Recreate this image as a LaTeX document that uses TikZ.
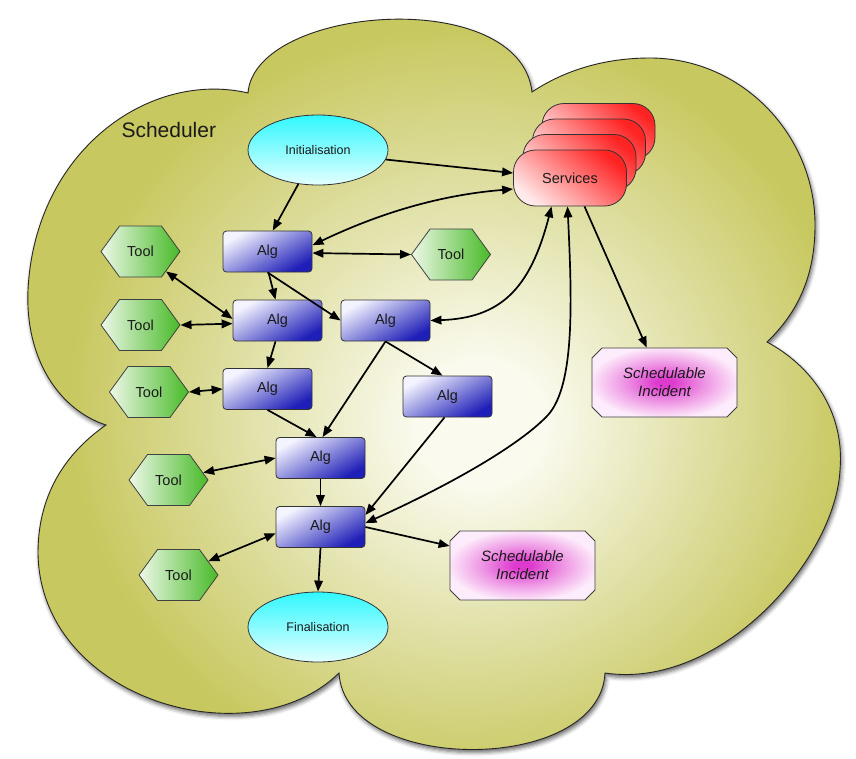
\documentclass[tikz,border=0pt]{standalone}
\usepackage{fontspec}
\setmainfont{Liberation Sans}
\usetikzlibrary{shapes.geometric,shapes.misc,shapes.symbols,arrows.meta,shadows.blur}

\definecolor{cloudout}{RGB}{200,200,96}
\definecolor{cloudmid}{RGB}{224,224,166}
\definecolor{cloudin}{RGB}{250,250,238}
\definecolor{txt}{RGB}{26,26,26}
\definecolor{algT}{RGB}{244,244,255}
\definecolor{algB}{RGB}{30,30,184}
\definecolor{toolL}{RGB}{238,248,232}
\definecolor{toolR}{RGB}{72,186,40}
\definecolor{cyT}{RGB}{48,248,255}
\definecolor{cyB}{RGB}{228,255,255}
\definecolor{redT}{RGB}{255,36,36}
\definecolor{redB}{RGB}{255,232,232}
\definecolor{magC}{RGB}{222,58,206}
\definecolor{magM}{RGB}{238,150,228}
\definecolor{magO}{RGB}{253,236,251}

\pgfdeclareradialshading{cloudshade}{\pgfpoint{3bp}{-3bp}}{color(0bp)=(cloudin); color(4bp)=(cloudin); color(14bp)=(cloudmid); color(24bp)=(cloudout); color(50bp)=(cloudout)}
\pgfdeclareradialshading{magshade}{\pgfpoint{0bp}{0bp}}{color(0bp)=(magC); color(3bp)=(magC); color(14bp)=(magM); color(26bp)=(magO); color(50bp)=(magO)}

\newcommand{\fAlg}{\fontsize{14.5}{17}\selectfont}
\newcommand{\fInit}{\fontsize{12.5}{15}\selectfont}
\newcommand{\fSched}{\fontsize{21}{25}\selectfont}
\newcommand{\fInc}{\fontsize{15}{18}\selectfont\itshape}

\begin{document}
\begin{tikzpicture}[x=1pt,y=-1pt,
  >={Triangle[length=11pt,width=8.5pt]},
  conn/.style={line width=1.7pt, draw=black},
  algbox/.style={draw=black!80, line width=0.8pt, rounded corners=3.5pt,
    minimum width=89pt, minimum height=41pt, inner sep=0pt,
    top color=algT, bottom color=algB, shading angle=30, font=\fAlg, text=txt},
  toolhex/.style={signal, signal to=west and east, signal pointer angle=108,
    draw=black!75, line width=0.8pt, minimum width=79pt, minimum height=51pt,
    inner sep=0pt, left color=toolL, right color=toolR, font=\fAlg, text=txt},
  ellnode/.style={ellipse, draw=black!80, line width=0.8pt, minimum width=140pt,
    minimum height=70pt, inner sep=0pt, top color=cyT, bottom color=cyB,
    font=\fInit, text=txt},
  servbox/.style={draw=black!80, line width=0.8pt, rounded corners=22pt,
    minimum width=113pt, minimum height=56pt, inner sep=0pt,
    top color=redT, bottom color=redB, shading angle=-40, font=\fAlg, text=txt},
  sched/.style={chamfered rectangle, chamfered rectangle xsep=5pt,
    chamfered rectangle ysep=5pt,
    draw=black!75, line width=0.8pt, minimum width=145pt, minimum height=69pt,
    inner sep=0pt, shade, shading=magshade, font=\fInc, text=txt,
    align=center}
]
\useasboundingbox (0,0) rectangle (856,758);

% cloud
\path[draw=black!85, line width=0.9pt, shade, shading=cloudshade,
  blur shadow={shadow xshift=1.5pt, shadow yshift=-3pt, shadow blur radius=4pt, shadow opacity=60}]
  (248,93) .. controls (255,5) and (520,-15) .. (532,92)
  .. controls (565,70) and (605,58) .. (650,58)
  .. controls (741,58) and (815,134) .. (815,225)
  .. controls (815,280) and (795,315) .. (767,342)
  .. controls (810,365) and (845,410) .. (840,470)
  .. controls (835,560) and (720,690) .. (605,673)
  .. controls (600,775) and (345,775) .. (339,673)
  .. controls (250,760) and (40,700) .. (38,553)
  .. controls (38,490) and (70,450) .. (106,425)
  .. controls (60,410) and (25,360) .. (28,290)
  .. controls (35,150) and (150,70) .. (248,93) -- cycle;

\node[anchor=west, font=\fSched, text=txt] (title) at (118,130) {Scheduler};

% services stack
\node[servbox] (serv1) at (598.5,131.5) {};
\node[servbox] (serv2) at (589,147) {};
\node[servbox] (serv3) at (579.5,162.5) {};
\node[servbox] (serv4) at (570,178) {Services};

\node[ellnode] (init) at (318,150) {Initialisation};
\node[ellnode] (final) at (318,627) {Finalisation};

\node[algbox] (a1) at (267.5,251.5) {Alg};
\node[algbox] (a2) at (277.5,320.5) {Alg};
\node[algbox] (a3) at (385.5,320.5) {Alg};
\node[algbox] (a4) at (267.5,389) {Alg};
\node[algbox] (a5) at (447.5,396.5) {Alg};
\node[algbox] (a6) at (320.5,458) {Alg};
\node[algbox] (a7) at (320.5,527) {Alg};

\node[toolhex] (t1) at (140.5,251.5) {Tool};
\node[toolhex] (t2) at (140.5,325) {Tool};
\node[toolhex] (t3) at (149,392) {Tool};
\node[toolhex] (t5) at (168.5,480) {Tool};
\node[toolhex] (t6) at (178.5,575) {Tool};
\node[toolhex] (tr) at (451,254.5) {Tool};

\node[sched] (s1) at (664.5,382.5) {Schedulable\\Incident};
\node[sched] (s2) at (522.5,565.5) {Schedulable\\Incident};

% connectors
\draw[conn,->] (init.-8) -- (serv4.175);
\draw[conn,->] (init.-120) -- (a1.76);
\draw[conn,<->] (serv4.191) .. controls (440,195) and (380,213) .. (a1.8);
\draw[conn,<->] (a1.-2) -- (tr.west);
\draw[conn,->] ([xshift=1pt]a1.south) -- ([xshift=-2pt]a2.north);
\draw[conn,->] (a1.south) -- (a3.west);
\draw[conn,<->] (t1.-38) -- (a2.178);
\draw[conn,<->] (t2.east) -- (a2.184);
\draw[conn,->] ([xshift=-2pt]a2.south) -- (a4.north);
\draw[conn,<->] (t3.east) -- (a4.west);
\draw[conn,<->] (a3.east) .. controls (500,318) and (530,290) .. (serv4.237);
\draw[conn,->] (a3.south) -- ([xshift=-5pt]a5.north);
\draw[conn,->] (a3.south) -- ([xshift=2pt]a6.north);
\draw[conn,->] (a4.south) -- ([xshift=-4pt]a6.north);
\draw[conn,<->] (t5.12) -- (a6.west);
\draw[conn,->] (a6.south) -- (a7.north);
\draw[conn,->] ([xshift=-3pt]a5.south) -- (a7.15);
\draw[conn,<->] (a7.5) .. controls (450,485) and (520,445) .. (548,415)
  .. controls (575,385) and (572,300) .. (serv4.265);
\draw[conn,->] (a7.south) -- (final.north);
\draw[conn,->] (a7.east) -- (s2.165);
\draw[conn,->] (serv4.-63) -- (s1.117);
\draw[conn,<->] (t6.25) -- (a7.188);
\end{tikzpicture}
\end{document}
